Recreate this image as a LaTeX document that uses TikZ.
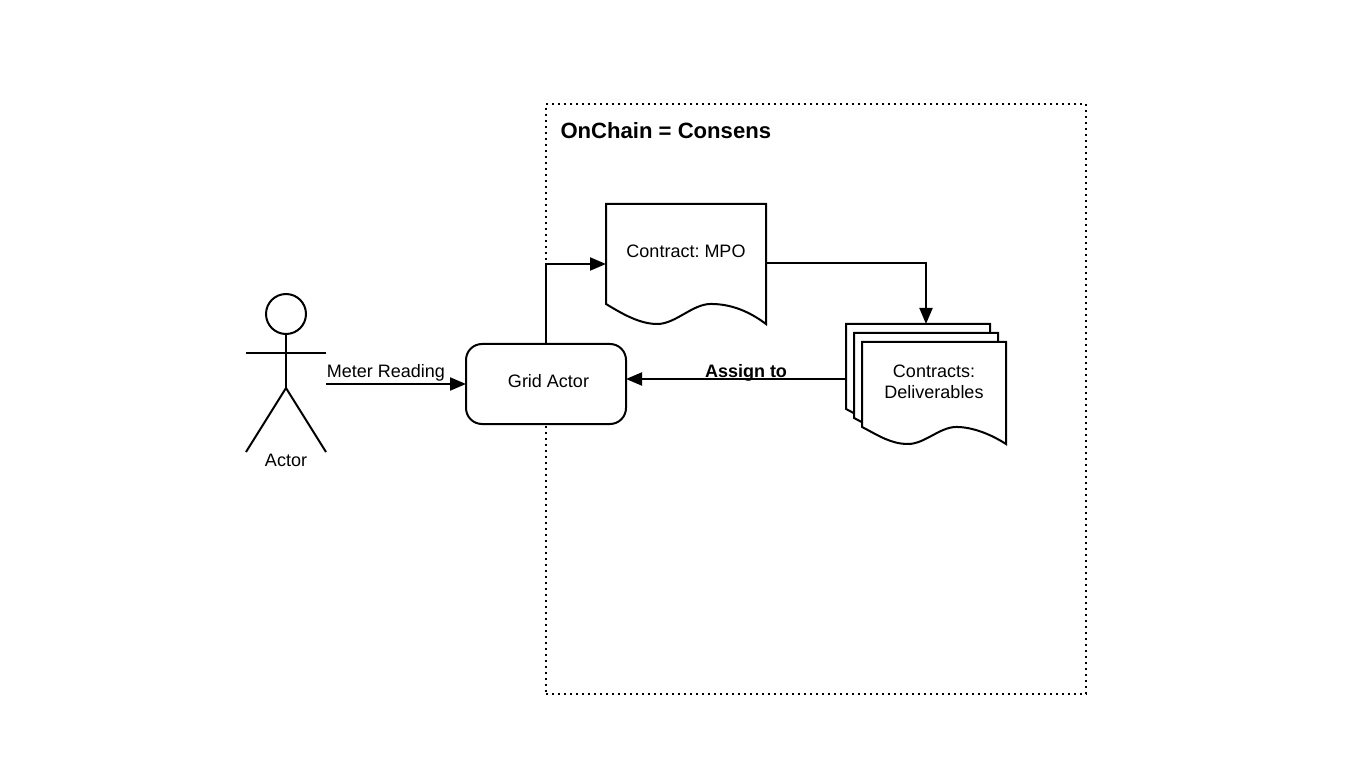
\documentclass[tikz,border=0pt]{standalone}
\usepackage{fontspec}
\setmainfont{Liberation Sans}
\usetikzlibrary{arrows.meta}
\frenchspacing
\newcommand{\docpath}[4]{% x, y, w, h
  \draw[shapeline,fill=white] (#1,#2) -- (#1+#3,#2) -- (#1+#3,#2+#4)
    .. controls (#1+#3-16,#2+#4*0.9) and (#1+#3-34,#2+#4*0.833) .. (#1+#3*0.655,#2+#4*0.833)
    .. controls (#1+#3*0.655-#3*0.115,#2+#4*0.833) and (#1+#3*0.32+#3*0.115,#2+#4) .. (#1+#3*0.32,#2+#4)
    .. controls (#1+#3*0.32-17,#2+#4) and (#1+17,#2+#4*0.92) .. (#1,#2+#4*0.833) -- cycle;}
\tikzset{
  shapeline/.style={draw=black,line width=2pt,line join=miter},
  conn/.style={draw=black,line width=2pt,-{Triangle[length=16pt,width=13pt]}},
  box/.style={inner sep=0pt,outer sep=0pt,minimum width=#1},
  txt/.style={inner sep=0pt,outer sep=0pt,font=\fontsize{18}{21}\selectfont,align=center,text=black},
}
\begin{document}
\begin{tikzpicture}[x=1pt,y=-1pt]
\useasboundingbox (0,0) rectangle (1360,783);
\fill[white] (0,0) rectangle (1360,783);
% frame
\node[box=540pt,minimum height=590pt,draw=black,line width=2pt,dash pattern=on 2pt off 4pt] (frame) at (816,399) {};
\node[txt,anchor=west,font=\fontsize{22.1}{26}\bfseries] (title) at (560.5,131) {OnChain = Consens};
% actor
\node[box=80pt,minimum height=158pt] (actor) at (286,373) {};
\node[draw=black,line width=2pt,circle,minimum size=40pt,inner sep=0pt,outer sep=0pt] (head) at (286,314) {};
\coordinate (hip) at (286,388);
\coordinate (armL) at (246,353);
\coordinate (armR) at (326,353);
\coordinate (footL) at (246,452);
\coordinate (footR) at (326,452);
\draw[line width=2pt] (head.south) -- (hip);
\draw[line width=1.6pt] (armL) -- (armR);
\draw[line width=2pt] (footL) -- (hip) -- (footR);
\node[txt] (actorT) at (286,460) {Actor};
% grid actor
\node[box=160pt,minimum height=80pt,draw=black,line width=2pt,rounded corners=16pt,fill=white] (grid) at (546,384) {};
\node[txt] (gridT) at (548.5,381.5) {Grid Actor};
% contract MPO
\docpath{606}{204}{160}{120}
\node[box=160pt,minimum height=120pt] (mpo) at (686,264) {};
\node[txt] (mpoT) at (686,251.5) {Contract: MPO};
% deliverables
\docpath{846}{324}{144}{102}
\docpath{854}{333}{144}{102}
\docpath{862}{342}{144}{102}
\node[box=160pt,minimum height=120pt] (stack) at (926,384) {};
\node[txt] (stackT) at (934,382) {Contracts:\\Deliverables};
% connectors
\coordinate (actorOut) at (326,384);
\draw[conn] (actorOut) -- (grid.west);
\node[txt] (meterT) at (386,373) {Meter Reading};
\draw[conn] (grid.north) -- (546,264) -- (mpo.west);
\draw[conn] ([yshift=1pt]mpo.east) -- (926,263) -- (stack.north);
\draw[conn] ([yshift=5pt]stack.west) -- ([yshift=5pt]grid.east);
\node[txt,font=\fontsize{18}{21}\bfseries] (assignT) at (746,373) {Assign to};
\end{tikzpicture}
\end{document}
